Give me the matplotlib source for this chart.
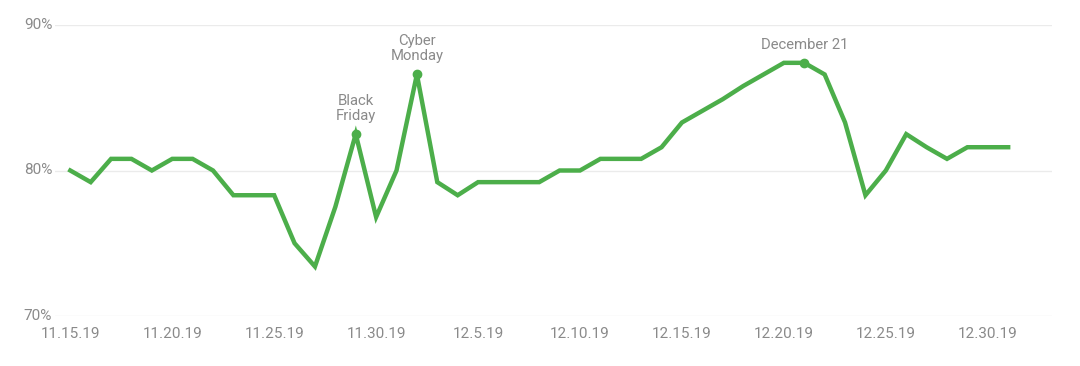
import matplotlib
matplotlib.use("Agg")
import matplotlib.pyplot as plt
import pandas as pd

dates = pd.date_range("2019-11-15", "2019-12-31", freq="D")
values = [80.0, 79.2, 80.8, 80.8, 80.0, 80.8, 80.8, 80.0, 78.3, 78.3,
          78.3, 75.0, 73.4, 77.5, 82.5, 76.8, 80.0, 86.6, 79.2, 78.3,
          79.2, 79.2, 79.2, 79.2, 80.0, 80.0, 80.8, 80.8, 80.8, 81.6,
          83.3, 84.1, 84.9, 85.8, 86.6, 87.4, 87.4, 86.6, 83.3, 78.3,
          80.0, 82.5, 81.6, 80.8, 81.6, 81.6, 81.6]
tick_dates = pd.date_range("2019-11-15", "2019-12-30", freq="5D")
tick_labels = ["11.15.19", "11.20.19", "11.25.19", "11.30.19", "12.5.19",
               "12.10.19", "12.15.19", "12.20.19", "12.25.19", "12.30.19"]
y_ticks = [70, 80, 90]
y_labels = ["70%", "80%", "90%"]
annotations = [("2019-11-29", "Black\nFriday"), ("2019-12-02", "Cyber\nMonday"),
               ("2019-12-21", "December 21")]

plt.rcParams['font.family'] = ['Roboto', 'DejaVu Sans']
green = "#4cae4a"
gray = "#8a8a8a"

fig = plt.figure(figsize=(10.8, 3.66), dpi=100)
ax = fig.add_axes([55/1080, 1 - 316/366, (1052-55)/1080, (316-25)/366])

ax.plot(dates, values, color=green, lw=3.2, solid_joinstyle="miter", zorder=3)

for d, label in annotations:
    dt = pd.Timestamp(d)
    v = values[list(dates).index(dt)]
    ax.plot([dt], [v], "o", color=green, ms=6, zorder=4)
    ax.annotate(label, (dt, v), xytext=(0, 8), textcoords="offset points",
                ha="center", va="bottom", fontsize=10.7, color=gray,
                linespacing=1.1)

ax.set_ylim(70, 90)
ax.set_xlim(pd.Timestamp("2019-11-15") - pd.Timedelta(days=0.75),
            pd.Timestamp("2019-12-31") + pd.Timedelta(days=2.15))
ax.set_yticks(y_ticks)
ax.set_yticklabels(y_labels)
ax.set_xticks(tick_dates)
ax.set_xticklabels(tick_labels)
ax.tick_params(axis="both", length=0, colors=gray, labelsize=11)
ax.tick_params(axis="x", pad=8)
ax.tick_params(axis="y", pad=2)
for lbl in ax.get_yticklabels():
    lbl.set_verticalalignment("center")
ax.grid(axis="y", color="#ebebeb", lw=1)
ax.grid(axis="x", visible=False)
for s in ax.spines.values():
    s.set_visible(False)
ax.set_facecolor("white")

fig.savefig("out.png", dpi=100, facecolor="white")
